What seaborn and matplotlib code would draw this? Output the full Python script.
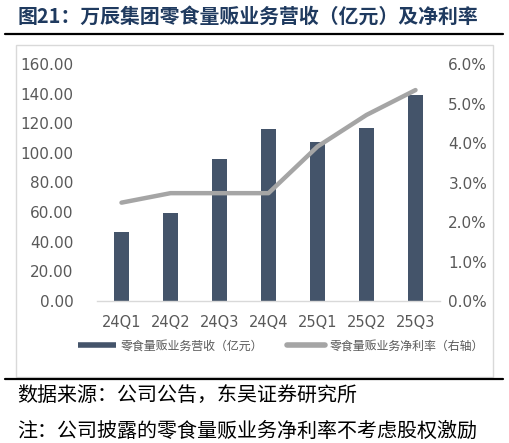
import numpy as np
import pandas as pd
import matplotlib
matplotlib.use("Agg")
import matplotlib.pyplot as plt
import seaborn as sns
from matplotlib.lines import Line2D
from matplotlib.patches import Rectangle

# data
quarters = ["24Q1", "24Q2", "24Q3", "24Q4", "25Q1", "25Q2", "25Q3"]
revenue = [46.4, 59.5, 95.7, 116.0, 107.2, 116.9, 139.0]
net_margin = [0.0249, 0.0273, 0.0273, 0.0273, 0.0391, 0.0471, 0.0534]
left_ticks = [0, 20, 40, 60, 80, 100, 120, 140, 160]
right_ticks = [0, 0.01, 0.02, 0.03, 0.04, 0.05, 0.06]

title = "图21：万辰集团零食量贩业务营收（亿元）及净利率"
bar_name = "零食量贩业务营收（亿元）"
line_name = "零食量贩业务净利率（右轴）"
source = "数据来源：公司公告，东吴证券研究所"
note = "注：公司披露的零食量贩业务净利率不考虑股权激励"

df = pd.DataFrame({"q": quarters, "rev": revenue, "margin": net_margin})

sns.set_style("white")
plt.rcParams['font.family'] = ['Noto Sans CJK SC', 'DejaVu Sans']

bar_c = "#44546A"
line_c = "#A5A5A5"
tick_c = "#595959"

W, H = 509, 443
fig = plt.figure(figsize=(W / 100, H / 100), dpi=100)
ax = fig.add_axes([97 / W, 1 - 301 / H, 343 / W, 237 / H])

sns.barplot(data=df, x="q", y="rev", color=bar_c, width=0.31, ax=ax,
            saturation=1, edgecolor="none")
ax.set_ylim(0, 160)
ax.set_xlim(-0.5, 6.5)
ax.set_yticks(left_ticks)
ax.set_yticklabels([f"{v:.2f}" for v in left_ticks], family="DejaVu Sans",
                   fontsize=11, color=tick_c)
ax.set_xticks(range(len(quarters)))
ax.set_xticklabels(quarters, family="DejaVu Sans", fontsize=10.5, color=tick_c)
ax.tick_params(axis="y", length=0, pad=17)
ax.tick_params(axis="x", length=0, pad=10)
ax.set_xlabel("")
ax.set_ylabel("")
for s in ["top", "left", "right"]:
    ax.spines[s].set_visible(False)
ax.spines["bottom"].set_color("#D9D9D9")
ax.spines["bottom"].set_linewidth(1)

ax2 = ax.twinx()
ax2.plot(range(len(quarters)), df["margin"], color=line_c, lw=3.2,
         solid_capstyle="round", solid_joinstyle="round")
ax2.set_ylim(0, 0.06)
ax2.set_yticks(right_ticks)
ax2.set_yticklabels([f"{v * 100:.1f}%" for v in right_ticks], family="DejaVu Sans",
                    fontsize=11, color=tick_c)
ax2.tick_params(axis="y", length=0, pad=6)
for s in ["top", "left", "right", "bottom"]:
    ax2.spines[s].set_visible(False)

# legend
handles = [Line2D([], [], color=bar_c, lw=4, solid_capstyle="butt"),
           Line2D([], [], color=line_c, lw=4, solid_capstyle="round")]
fig.legend(handles, [bar_name, line_name], loc="center", ncol=2, frameon=False,
           bbox_to_anchor=(281 / W, 1 - 346 / H), fontsize=8.6, handlelength=3.2,
           handletextpad=0.4, columnspacing=2.0, labelcolor=tick_c)

# chart frame and separators
fig.patches.append(Rectangle((16 / W, 1 - 377 / H), 477 / W, 332 / H,
                             transform=fig.transFigure, fill=False,
                             edgecolor="#D9D9D9", lw=1))
fig.add_artist(Line2D([5 / W, 503 / W], [1 - 34 / H, 1 - 34 / H], color="black", lw=1.6))
fig.add_artist(Line2D([5 / W, 503 / W], [1 - 379 / H, 1 - 379 / H], color="black", lw=1.6))

fig.text(18 / W, 1 - 16 / H, title, fontsize=14.3, fontweight="bold",
         color="#1F3A5F", va="center", ha="left")
fig.text(17 / W, 1 - 396 / H, source, fontsize=14.4, color="black", va="center", ha="left")
fig.text(17 / W, 1 - 431 / H, note, fontsize=14.4, color="black", va="center", ha="left")

fig.savefig("out.png", dpi=100)
